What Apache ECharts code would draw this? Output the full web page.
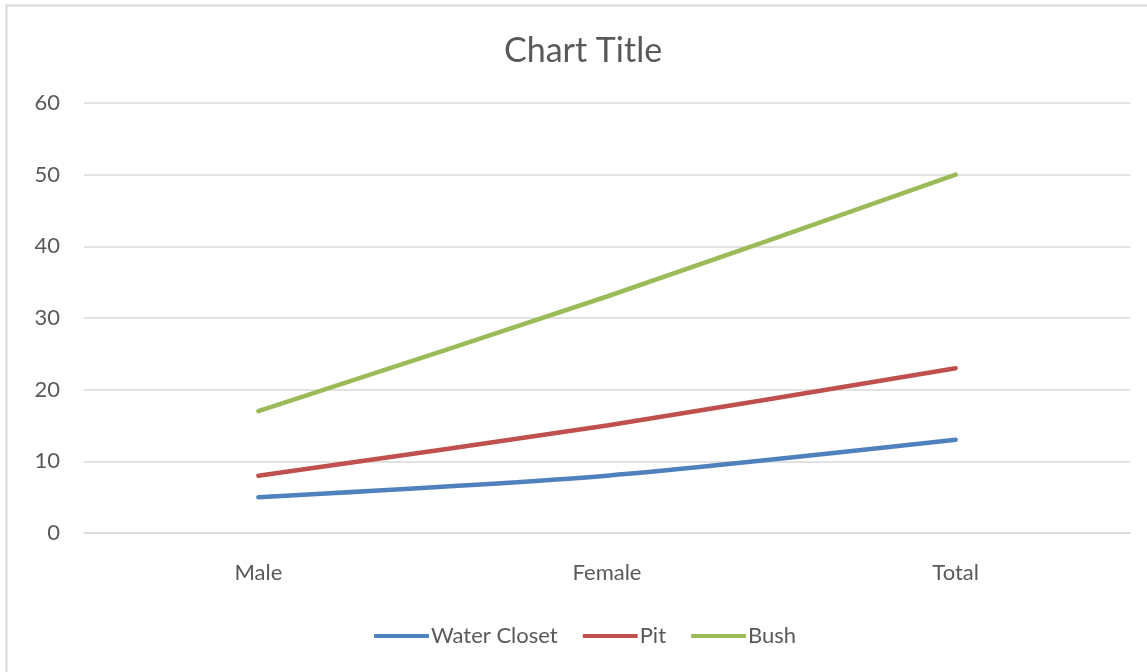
<!DOCTYPE html>
<html><head><meta charset="utf-8">
<script src="https://cdn.jsdelivr.net/npm/echarts@6/dist/echarts.min.js"></script>
<style>html,body{margin:0;padding:0;background:#fff}#c{width:1147px;height:672px}</style>
</head><body><div id="c"></div>
<script>
const categories = ['Male', 'Female', 'Total'];
const waterCloset = [5, 8, 13];
const pit = [8, 15, 23];
const bush = [17, 33, 50];
const seriesNames = ['Water Closet', 'Pit', 'Bush'];
const colors = ['#4f81bd', '#c0504d', '#9bbb59'];
const font = 'Lato, "Open Sans", sans-serif';

const chart = echarts.init(document.getElementById('c'), null, {renderer: 'canvas'});
const mk = (name, data, color) => ({
  name, type: 'line', data, smooth: 0.25, symbol: 'none',
  lineStyle: {width: 4.5, color, cap: 'round'}, itemStyle: {color}
});
chart.setOption({
  animation: false,
  backgroundColor: '#fff',
  title: {text: 'Chart Title', left: 499, top: 29,
    textStyle: {fontFamily: font, fontSize: 34, fontWeight: 'normal', color: '#595959'}},
  graphic: [{type: 'rect', shape: {x: 6.5, y: 5.5, width: 1160, height: 700},
    style: {fill: 'none', stroke: '#d9d9d9', lineWidth: 2}, silent: true}],
  legend: {bottom: 20, left: 369, itemWidth: 55, itemHeight: 4, itemGap: 25,
    icon: 'roundRect',
    textStyle: {fontFamily: font, fontSize: 22, color: '#595959', padding: [0,0,0,-3]},
    data: seriesNames},
  grid: {left: 84, right: 17, top: 103, bottom: 139, containLabel: false},
  xAxis: {type: 'category', data: categories, boundaryGap: true,
    axisLine: {show: true, lineStyle: {color: '#d9d9d9', width: 1.5}},
    axisTick: {show: false},
    axisLabel: {fontFamily: font, fontSize: 22, color: '#595959', margin: 29}},
  yAxis: {type: 'value', min: 0, max: 60, interval: 10,
    axisLine: {show: false}, axisTick: {show: false},
    splitLine: {lineStyle: {color: '#d9d9d9', width: 1.5}},
    axisLabel: {fontFamily: font, fontSize: 22, color: '#595959', margin: 24}},
  series: [mk(seriesNames[0], waterCloset, colors[0]), mk(seriesNames[1], pit, colors[1]), mk(seriesNames[2], bush, colors[2])]
});
</script></body></html>
